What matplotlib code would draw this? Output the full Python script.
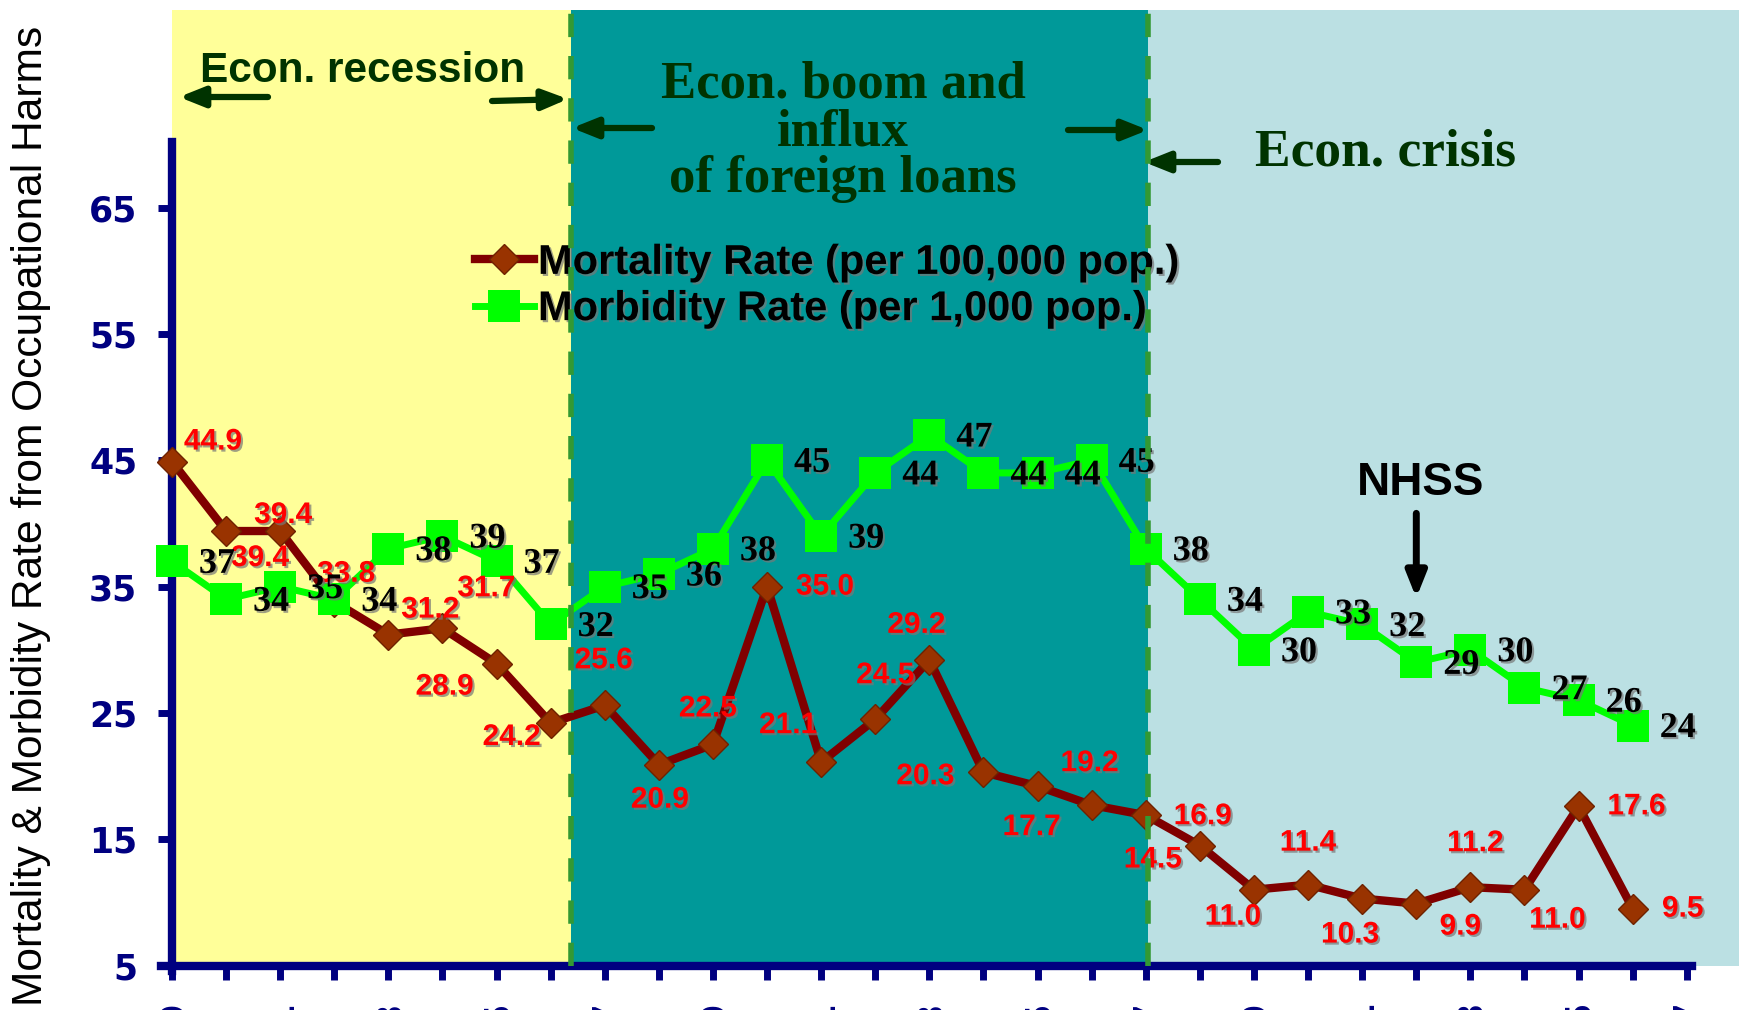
import matplotlib
matplotlib.use("Agg")
import matplotlib.pyplot as plt
import matplotlib.patheffects as pe
import numpy as np

# ---------------- data ----------------
years = list(range(1979, 2007))            # 28 yearly points
tick_years = list(range(1979, 2008))       # category axis ticks
mortality = [44.9, 39.4, 39.4, 33.8, 31.2, 31.7, 28.9, 24.2,
             25.6, 20.9, 22.5, 35.0, 21.1, 24.5, 29.2, 20.3,
             19.2, 17.7, 16.9, 14.5,
             11.0, 11.4, 10.3, 9.9, 11.2, 11.0, 17.6, 9.5]
morbidity = [37, 34, 35, 34, 38, 39, 37, 32,
             35, 36, 38, 45, 39, 44, 47, 44,
             44, 45, 38, 34,
             30, 33, 32, 29, 30, 27, 26, 24]
mort_name = "Mortality Rate (per 100,000 pop.)"
morb_name = "Morbidity Rate (per 1,000 pop.)"
ylabel = "Mortality & Morbidity Rate from Occupational Harms"
yticks = [5, 15, 25, 35, 45, 55, 65]
era_bounds = [7.37, 18.04]                 # in category units
era_colors = ["#FFFF99", "#009999", "#BBE0E3"]
nhss_year = 2002

# label offsets (pixels, right / up) – placement only
mort_off = [(41, 20), (34, -27), (3, 16), (12, 28), (42, 25), (44, 40), (-52, -23), (-39, -14),
            (-1, 45), (1, -35), (-5, 36), (58, 0), (-33, 37), (10, 44), (-13, 35), (-58, -4),
            (52, 23), (-60, -22), (57, -1), (-47, -14),
            (-21, -27), (0, 42), (-12, -36), (44, -23), (5, 44), (33, -30), (58, 0), (50, 0)]
morb_off = (45, -3)

# ---------------- figure ----------------
W, H = 1740, 1010
fig = plt.figure(figsize=(W / 100, H / 100), dpi=100, facecolor="white")
x0, ybot, ytop_px = 172, 965.5, 10
ax = fig.add_axes([x0 / W, 1 - ybot / H, (W - x0) / W, (ybot - ytop_px) / H])
ax.set_facecolor("white")
xpx = 54.1
ypx = 12.63
ax.set_xlim(0, (W - x0) / xpx)
ax.set_ylim(5, 5 + (ybot - ytop_px) / ypx)

x = np.arange(len(years))

# era backgrounds
xmax = ax.get_xlim()[1]
edges = [0] + era_bounds + [xmax]
for i, c in enumerate(era_colors):
    ax.axvspan(edges[i], edges[i + 1], color=c, zorder=0, lw=0)
for b in era_bounds:
    ax.axvline(b, color="#339933", lw=4, linestyle=(0, (4.2, 3.4)), zorder=30)

# series
l_mort, = ax.plot(x, mortality, color="#800000", lw=6, marker="D", ms=15.5,
                  mfc="#993300", mec="#6e2200", mew=1, zorder=3, clip_on=False,
                  label=mort_name)
l_morb, = ax.plot(x, morbidity, color="#00FF00", lw=5, marker="s", ms=23,
                  mfc="#00FF00", mec="#00FF00", mew=0, zorder=4, clip_on=False,
                  label=morb_name)

shadow = [pe.SimplePatchShadow(offset=(1.5, -1.5), shadow_rgbFace="#777777", alpha=0.7), pe.Normal()]

for i, v in enumerate(mortality):
    ax.annotate(f"{v:.1f}", (x[i], v), xytext=mort_off[i], textcoords="offset pixels",
                ha="center", va="center", color="#FF0000", fontsize=21.5,
                family="Liberation Sans", weight="bold", zorder=8, path_effects=shadow,
                annotation_clip=False)
for i, v in enumerate(morbidity):
    ax.annotate(f"{v:d}", (x[i], v), xytext=morb_off, textcoords="offset pixels",
                ha="center", va="center", color="black", fontsize=26,
                family="Liberation Serif", weight="bold", zorder=8, path_effects=shadow,
                annotation_clip=False)

# axes styling
for s in ["top", "right"]:
    ax.spines[s].set_visible(False)
for s in ["left", "bottom"]:
    ax.spines[s].set_color("#000080")
    ax.spines[s].set_linewidth(6)
    ax.spines[s].set_zorder(2.5)
ax.spines["left"].set_bounds(4.6, 70.2)
ax.spines["bottom"].set_bounds(-0.2, 28.1)

ax.set_yticks(yticks)
ax.set_yticklabels([str(t) for t in yticks])
ax.set_xticks(np.arange(len(tick_years)))
ax.set_xticklabels([str(y) if (y - tick_years[0]) % 2 == 0 else "" for y in tick_years],
                   rotation=90)
ax.tick_params(axis="both", direction="out", length=10, width=5, color="#000080",
               labelcolor="#000080")
ax.tick_params(axis="y", pad=15)
ax.tick_params(axis="x", pad=14.5)
for lab in ax.get_yticklabels() + ax.get_xticklabels():
    lab.set_fontfamily("DejaVu Sans")
    lab.set_fontweight("bold")
    lab.set_fontsize(25)

# legend
leg = ax.legend(handles=[l_mort, l_morb], loc="center left",
                bbox_to_anchor=(475 / W, 1 - 286 / H), bbox_transform=fig.transFigure,
                frameon=False, prop=dict(family="Liberation Sans", weight="bold", size=30),
                handlelength=1.41, handletextpad=0.1, labelspacing=0.15, borderpad=0,
                borderaxespad=0, numpoints=1)
leg.set_zorder(9)
for t in leg.get_texts():
    t.set_path_effects(shadow)

# y label
fig.text(31 / W, 1 - 516 / H, ylabel, rotation=90, ha="center", va="center",
         fontsize=30.6, family="Liberation Sans", color="black")

# era texts
green = "#003300"
fig.text(363 / W, 1 - 81.7 / H, "Econ. recession", ha="center", va="baseline",
         fontsize=30.5, family="Liberation Sans", weight="bold", color=green)
for txt, yb in zip(["Econ. boom and", "influx", "of foreign loans"], [97, 145, 192]):
    fig.text(843 / W, 1 - yb / H, txt, ha="center", va="baseline",
             fontsize=38, family="Liberation Serif", weight="bold", color=green)
fig.text(1386 / W, 1 - 166 / H, "Econ. crisis", ha="center", va="baseline",
         fontsize=38.5, family="Liberation Serif", weight="bold", color=green)

# era arrows (figure pixels: tail -> head)
era_arrows = [((268, 97), (179, 97)), ((492, 101), (568, 99)),
              ((652, 128), (572, 128)), ((1068, 130), (1148, 130)),
              ((1218, 162), (1144, 162))]
for (tx, ty), (hx, hy) in era_arrows:
    ax.annotate("", xy=(hx, H - hy), xytext=(tx, H - ty), xycoords="figure pixels",
                textcoords="figure pixels", annotation_clip=False,
                arrowprops=dict(arrowstyle="-|>,head_length=0.75,head_width=0.3",
                                mutation_scale=20, color=green, lw=4.5,
                                shrinkA=0, shrinkB=0), zorder=12)

# NHSS
xi = years.index(nhss_year)
ax.annotate("", xy=(xi, 34.1), xytext=(xi, 40.8),
            arrowprops=dict(arrowstyle="-|>,head_length=0.75,head_width=0.3",
                            mutation_scale=20, color="black", lw=5,
                            shrinkA=0, shrinkB=0), zorder=12)
ax.text(xi + 0.07, 42.25, "NHSS", ha="center", va="baseline", fontsize=33,
        family="Liberation Sans", weight="bold", color="black", zorder=12)

fig.savefig("out.png", dpi=100, facecolor="white")
